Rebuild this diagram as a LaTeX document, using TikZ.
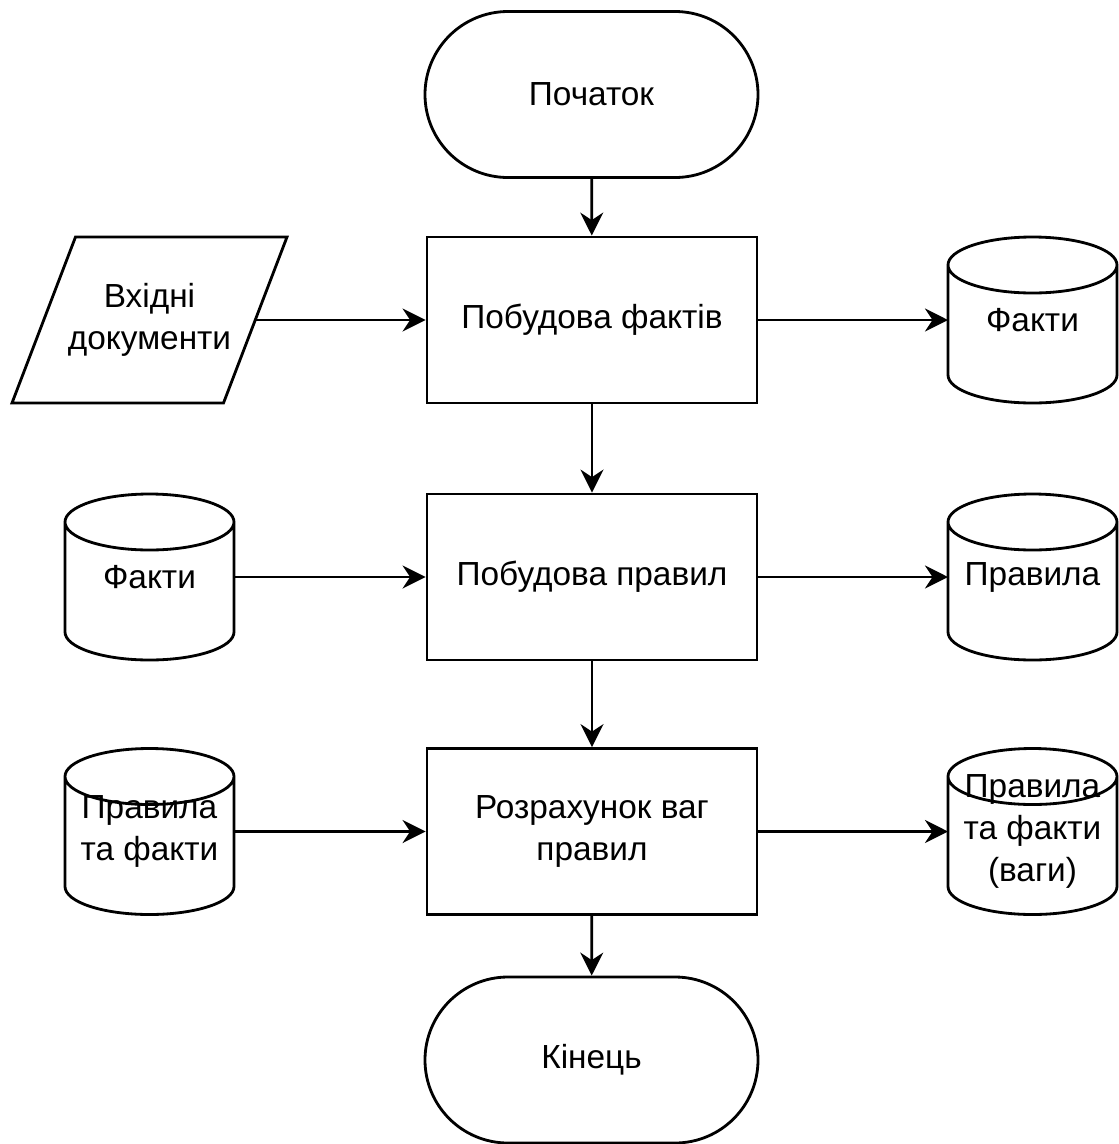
\documentclass[tikz,border=0pt]{standalone}
\usepackage{fontspec}
\setmainfont{Liberation Sans}
\usetikzlibrary{arrows.meta}

% outline of a drum store around a (plain) node
\newcommand{\drum}[1]{%
  \draw (#1.north west) ++(0,-0.56) -- ++(0,-2.2)
    arc[start angle=180,end angle=360,x radius=1.69,y radius=0.56] -- ++(0,2.2)
    arc[start angle=0,end angle=180,x radius=1.69,y radius=0.56]
    arc[start angle=180,end angle=360,x radius=1.69,y radius=0.56];}
% slanted input box around a (plain) node
\newcommand{\slantbox}[1]{%
  \draw (#1.south west) -- ++(1.27,3.32) -- (#1.north east) -- ++(-1.27,-3.32) -- cycle;}

\begin{document}
\begin{tikzpicture}[
  line width=1.6pt, font=\fontsize{19}{24}\selectfont,
  every node/.style={align=center,inner sep=0pt},
  term/.style={draw,rounded corners=1.66cm,minimum width=6.66cm,minimum height=3.32cm},
  proc/.style={draw,minimum width=6.6cm,minimum height=3.32cm},
  inpt/.style={outer sep=0pt,minimum width=5.5cm,minimum height=3.32cm},
  store/.style={outer sep=0pt,minimum width=3.38cm,minimum height=3.32cm},
  flow/.style={-{Stealth[length=0.46cm,width=0.46cm,inset=0.15cm]}}
]
  \useasboundingbox (0,0) rectangle (22.38,-22.88);

  \node[term] (start) at (11.83,-1.89)  {Початок};
  \node[proc] (bfact) at (11.84,-6.40)  {Побудова фактів};
  \node[proc] (bprav) at (11.84,-11.54) {Побудова правил};
  \node[proc] (rozr)  at (11.84,-16.63) {Розрахунок ваг\\правил};
  \node[term] (kin)   at (11.83,-21.20) {Кінець};

  \node[inpt]  (inp)   at (2.99,-6.40)   {Вхідні\\документи};
  \node[store] (fakt2) at (2.99,-11.54)  {Факти};
  \node[store] (pf)    at (2.99,-16.63)  {Правила\\та факти};
  \node[store] (fakt1) at (20.65,-6.40)  {Факти};
  \node[store] (prav1) at (20.65,-11.54) {Правила};
  \node[store] (pfv)   at (20.65,-16.63) {Правила\\та факти\\(ваги)};

  \slantbox{inp}
  \drum{fakt1} \drum{fakt2} \drum{prav1} \drum{pf} \drum{pfv}

  \draw[flow] (start) -- (bfact);
  \draw[flow] (bfact) -- (bprav);
  \draw[flow] (bprav) -- (rozr);
  \draw[flow] (rozr) -- (kin);

  \draw[flow] ([xshift=-0.635cm]inp.east) -- (bfact);
  \draw[flow] (fakt2) -- (bprav);
  \draw[flow] (pf) -- (rozr);

  \draw[flow] (bfact) -- (fakt1);
  \draw[flow] (bprav) -- (prav1);
  \draw[flow] (rozr) -- (pfv);
\end{tikzpicture}
\end{document}
